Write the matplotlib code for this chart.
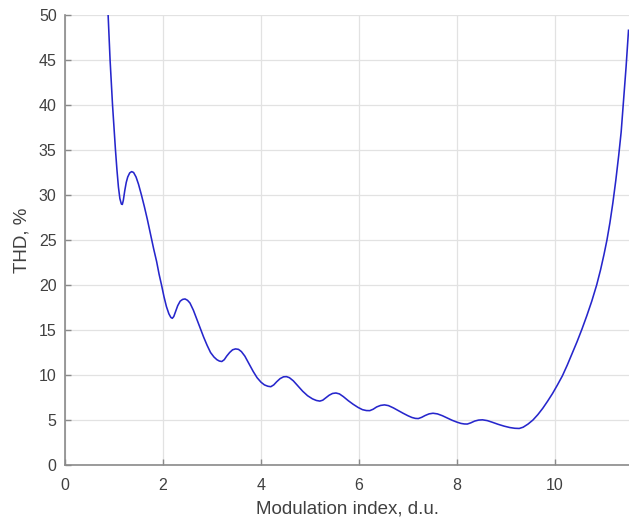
import matplotlib
matplotlib.use("Agg")
import matplotlib.pyplot as plt

# Data (Modulation index vs THD)
mod_index = [0.88, 0.90, 0.92, 0.945, 0.97, 1.00, 1.03, 1.06, 1.09, 1.12, 1.15, 1.17, 1.19,
             1.22, 1.25, 1.28, 1.32, 1.36, 1.40, 1.45, 1.50, 1.56, 1.62, 1.68, 1.75, 1.81,
             1.87, 1.92, 1.97, 2.02, 2.07, 2.12, 2.16, 2.19, 2.22, 2.26, 2.30, 2.35, 2.40,
             2.45, 2.50, 2.55, 2.62, 2.69, 2.76, 2.83, 2.90, 2.97, 3.04, 3.10, 3.15, 3.20,
             3.25, 3.30, 3.36, 3.42, 3.48, 3.54, 3.60, 3.67, 3.75, 3.84, 3.92, 4.00, 4.07,
             4.14, 4.20, 4.26, 4.32, 4.39, 4.46, 4.52, 4.58, 4.66, 4.75, 4.85, 4.95, 5.05,
             5.13, 5.20, 5.26, 5.32, 5.39, 5.46, 5.53, 5.60, 5.68, 5.78, 5.88, 5.98, 6.07,
             6.15, 6.22, 6.29, 6.36, 6.44, 6.52, 6.60, 6.70, 6.80, 6.90, 7.00, 7.08, 7.15,
             7.21, 7.28, 7.35, 7.43, 7.51, 7.60, 7.70, 7.80, 7.90, 8.00, 8.08, 8.15, 8.21,
             8.28, 8.36, 8.44, 8.52, 8.62, 8.72, 8.84, 8.96, 9.08, 9.18, 9.27, 9.35, 9.45,
             9.55, 9.65, 9.75, 9.85, 9.95, 10.05, 10.15, 10.25, 10.35, 10.45, 10.55, 10.65,
             10.75, 10.85, 10.93, 11.00, 11.06, 11.12, 11.18, 11.24, 11.30, 11.35, 11.40,
             11.45, 11.50]
thd = [50.0, 47.5, 45.0, 42.5, 40.0, 37.5, 35.0, 32.8, 30.9, 29.6, 29.0, 28.95, 29.4,
       30.5, 31.4, 32.0, 32.45, 32.6, 32.5, 32.0, 31.2, 30.0, 28.7, 27.3, 25.5, 24.0,
       22.6, 21.2, 20.0, 18.7, 17.6, 16.8, 16.4, 16.3, 16.5, 17.1, 17.7, 18.2, 18.4,
       18.45, 18.3, 18.0, 17.2, 16.2, 15.2, 14.2, 13.3, 12.5, 12.0, 11.7, 11.55, 11.5,
       11.7, 12.1, 12.5, 12.8, 12.9, 12.85, 12.6, 12.1, 11.3, 10.4, 9.7, 9.2, 8.9,
       8.75, 8.7, 8.9, 9.25, 9.6, 9.8, 9.82, 9.7, 9.35, 8.8, 8.2, 7.7, 7.35,
       7.17, 7.1, 7.2, 7.45, 7.75, 7.95, 8.0, 7.9, 7.6, 7.15, 6.75, 6.4, 6.15,
       6.05, 6.04, 6.2, 6.45, 6.62, 6.68, 6.6, 6.35, 6.05, 5.75, 5.47, 5.28, 5.18,
       5.16, 5.3, 5.5, 5.68, 5.75, 5.68, 5.48, 5.22, 4.97, 4.76, 4.62, 4.56, 4.55,
       4.68, 4.88, 4.99, 5.02, 4.93, 4.75, 4.52, 4.32, 4.16, 4.08, 4.06, 4.2, 4.55,
       5.0, 5.6, 6.3, 7.1, 7.95, 8.9, 9.9, 11.1, 12.4, 13.7, 15.1, 16.6,
       18.2, 20.0, 21.7, 23.4, 25.0, 26.9, 29.1, 31.6, 34.4, 37.0, 40.6,
       44.2, 48.3]

x_ticks = [0, 2, 4, 6, 8, 10]
y_ticks = [0, 5, 10, 15, 20, 25, 30, 35, 40, 45, 50]

plt.rcParams['font.family'] = ['Liberation Sans', 'DejaVu Sans']

fig = plt.figure(figsize=(6.29, 5.20), dpi=100)
ax = fig.add_axes([65/629, 55/520, 564/629, 450/520])

ax.plot(mod_index, thd, color='#2626cc', linewidth=1.15, solid_joinstyle='round')

ax.set_xlim(0, 11.51)
ax.set_ylim(0, 50)
ax.set_xticks(x_ticks)
ax.set_yticks(y_ticks)
ax.grid(True, color='#e2e2e2', linewidth=0.9)
ax.set_axisbelow(True)

for s in ['top', 'right']:
    ax.spines[s].set_visible(False)
for s in ['left', 'bottom']:
    ax.spines[s].set_color('#8a8a8a')
    ax.spines[s].set_linewidth(1.2)

ax.tick_params(direction='in', length=4, width=1, color='#8a8a8a',
               labelsize=11.5, labelcolor='#404040')
ax.tick_params(axis='x', pad=9)
ax.tick_params(axis='y', pad=6)

ax.set_xlabel('Modulation index, d.u.', fontsize=13.5, color='#404040', labelpad=6)
ax.set_ylabel('THD, %', fontsize=13.5, color='#404040', labelpad=6)

fig.savefig('out.png', dpi=100, facecolor='white')
